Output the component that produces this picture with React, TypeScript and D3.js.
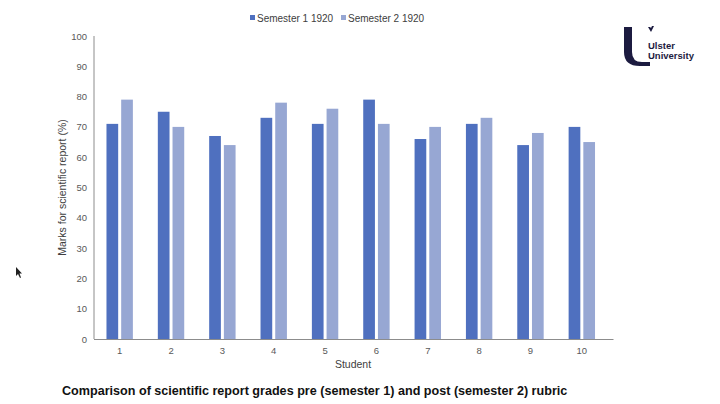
import React from "react";
import * as d3 from "d3";

const students = ["1", "2", "3", "4", "5", "6", "7", "8", "9", "10"];
const sem1 = [71, 75, 67, 73, 71, 79, 66, 71, 64, 70];
const sem2 = [79, 70, 64, 78, 76, 71, 70, 73, 68, 65];
const seriesNames = ["Semester 1 1920", "Semester 2 1920"];
const yTicks = [0, 10, 20, 30, 40, 50, 60, 70, 80, 90, 100];
const colors = ["#4f70bf", "#97a7d3"];

export default function App() {
  const W = 720, H = 404;
  const x0 = 94, x1 = 607.5, yTop = 36, yBot = 339;
  const x = d3.scaleBand().domain(students).range([x0, x1]);
  const y = d3.scaleLinear().domain([0, 100]).range([yBot, yTop]);
  const bw = 11.7, gap = 3;
  const font = "Liberation Sans, Arial, sans-serif";
  const series = [sem1, sem2];
  return (
    <svg width={W} height={H} style={{ position: "absolute", left: 0, top: 0, background: "#fff" }} fontFamily={font}>
      <rect width={W} height={H} fill="#fff" />
      {/* legend */}
      {seriesNames.map((n, i) => {
        const lx = i === 0 ? 250 : 341;
        return (
          <g key={n}>
            <rect x={lx} y={15} width={5} height={5} fill={colors[i]} />
            <text x={lx + 7} y={21.5} fontSize={10} fill="#404040">{n}</text>
          </g>
        );
      })}
      {/* bars */}
      {students.map((s, i) => {
        const c = (x(s) as number) + x.bandwidth() / 2;
        return series.map((vals, k) => (
          <rect key={s + k} x={k === 0 ? c - gap / 2 - bw : c + gap / 2} y={y(vals[i])} width={bw} height={yBot - y(vals[i])} fill={colors[k]} />
        ));
      })}
      {/* axes */}
      <line x1={x0} x2={x0} y1={yTop} y2={yBot} stroke="#8c8c8c" strokeWidth={1} />
      <line x1={x0} x2={x1 + 6} y1={yBot + 0.5} y2={yBot + 0.5} stroke="#8c8c8c" strokeWidth={1} />
      {yTicks.map((t) => (
        <text key={t} x={87} y={y(t) + 3.5} fontSize={9.5} fill="#595959" textAnchor="end">{t}</text>
      ))}
      {students.map((s) => (
        <text key={s} x={(x(s) as number) + x.bandwidth() / 2} y={354} fontSize={9.5} fill="#595959" textAnchor="middle">{s}</text>
      ))}
      <text x={353} y={367.5} fontSize={10.5} fill="#404040" textAnchor="middle">Student</text>
      <text transform={`translate(66,${(yTop + yBot) / 2}) rotate(-90)`} fontSize={10.5} fill="#404040" textAnchor="middle">Marks for scientific report (%)</text>
      <text x={62} y={394.5} fontSize={12.6} fontWeight="bold" fill="#111">Comparison of scientific report grades pre (semester 1) and post (semester 2) rubric</text>
      {/* logo */}
      <g fill="#1c1b40">
        <path d="M624,27 L632,27 L632,52 Q632,62 642,62 L650,62 L650,66 L640,66 Q624,66 624,52 Z" />
        <path d="M648,27 L651,32 L654,26 L652,26 L651,28 L650,27 Z" />
        <text x={648} y={49} fontSize={9.5} fontWeight="bold" fill="#1c1b40">Ulster</text>
        <text x={648} y={58.5} fontSize={9.5} fontWeight="bold" fill="#1c1b40">University</text>
      </g>
      {/* cursor */}
      <path d="M16,267 L16,276 L18,274 L20,278 L21,277.5 L19.5,273.5 L22,273.5 Z" fill="#222" />
    </svg>
  );
}
